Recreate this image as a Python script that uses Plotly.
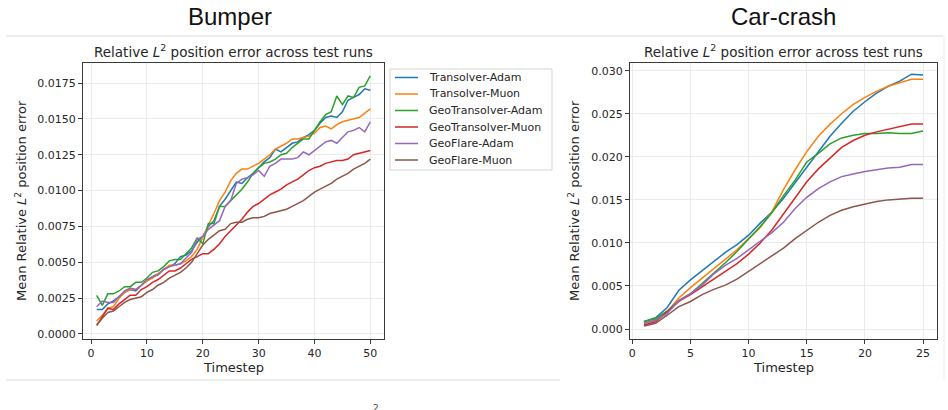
import plotly.graph_objects as go

W, H = 948, 410

series_names = ["Transolver-Adam", "Transolver-Muon", "GeoTransolver-Adam",
                "GeoTransolver-Muon", "GeoFlare-Adam", "GeoFlare-Muon"]
colors = ["#1f77b4", "#ff7f0e", "#2ca02c", "#d62728", "#9467bd", "#8c564b"]

bumper_t = list(range(1, 51))
bumper_transolver_adam = [
    0.0017, 0.0017, 0.0021, 0.0023, 0.0026, 0.0029, 0.0031, 0.0030, 0.0034, 0.0037,
    0.0040, 0.0042, 0.0045, 0.0047, 0.0049, 0.0054, 0.0055, 0.0058, 0.0064, 0.0068,
    0.0075, 0.0079, 0.0089, 0.0094, 0.0100, 0.0106, 0.0105, 0.0109, 0.0112, 0.0116,
    0.0120, 0.0123, 0.0129, 0.0127, 0.0130, 0.0133, 0.0134, 0.0137, 0.0139, 0.0142,
    0.0147, 0.0151, 0.0152, 0.0151, 0.0155, 0.0163, 0.0165, 0.0167, 0.0171, 0.0170]
bumper_transolver_muon = [
    0.0009, 0.0013, 0.0018, 0.0019, 0.0025, 0.0029, 0.0031, 0.0031, 0.0034, 0.0037,
    0.0039, 0.0042, 0.0045, 0.0048, 0.0048, 0.0049, 0.0051, 0.0054, 0.0059, 0.0068,
    0.0076, 0.0084, 0.0093, 0.0099, 0.0107, 0.0112, 0.0115, 0.0115, 0.0117, 0.0119,
    0.0122, 0.0125, 0.0129, 0.0131, 0.0133, 0.0136, 0.0136, 0.0137, 0.0138, 0.0140,
    0.0144, 0.0145, 0.0143, 0.0146, 0.0148, 0.0149, 0.0150, 0.0151, 0.0154, 0.0157]
bumper_geotransolver_adam = [
    0.0027, 0.0020, 0.0028, 0.0028, 0.0030, 0.0033, 0.0033, 0.0036, 0.0036, 0.0039,
    0.0043, 0.0044, 0.0047, 0.0051, 0.0052, 0.0052, 0.0056, 0.0060, 0.0067, 0.0063,
    0.0077, 0.0077, 0.0089, 0.0089, 0.0093, 0.0097, 0.0101, 0.0106, 0.0112, 0.0116,
    0.0119, 0.0120, 0.0122, 0.0125, 0.0126, 0.0130, 0.0133, 0.0136, 0.0136, 0.0142,
    0.0148, 0.0153, 0.0155, 0.0166, 0.0160, 0.0166, 0.0165, 0.0172, 0.0173, 0.0180]
bumper_geotransolver_muon = [
    0.0006, 0.0012, 0.0018, 0.0017, 0.0021, 0.0024, 0.0027, 0.0027, 0.0031, 0.0033,
    0.0036, 0.0038, 0.0041, 0.0044, 0.0044, 0.0046, 0.0049, 0.0052, 0.0054, 0.0056,
    0.0056, 0.0059, 0.0063, 0.0068, 0.0072, 0.0076, 0.0080, 0.0085, 0.0089, 0.0091,
    0.0094, 0.0097, 0.0099, 0.0101, 0.0104, 0.0106, 0.0108, 0.0111, 0.0114, 0.0116,
    0.0117, 0.0119, 0.0120, 0.0121, 0.0121, 0.0122, 0.0125, 0.0126, 0.0127, 0.0128]
bumper_geoflare_adam = [
    0.0019, 0.0023, 0.0022, 0.0022, 0.0026, 0.0030, 0.0032, 0.0031, 0.0034, 0.0038,
    0.0040, 0.0041, 0.0045, 0.0047, 0.0048, 0.0049, 0.0053, 0.0057, 0.0066, 0.0068,
    0.0073, 0.0076, 0.0079, 0.0089, 0.0093, 0.0105, 0.0108, 0.0109, 0.0111, 0.0114,
    0.0110, 0.0117, 0.0119, 0.0122, 0.0122, 0.0122, 0.0123, 0.0127, 0.0125, 0.0128,
    0.0131, 0.0134, 0.0135, 0.0133, 0.0137, 0.0141, 0.0142, 0.0144, 0.0141, 0.0148]
bumper_geoflare_muon = [
    0.0006, 0.0011, 0.0015, 0.0016, 0.0019, 0.0022, 0.0024, 0.0025, 0.0026, 0.0029,
    0.0031, 0.0034, 0.0036, 0.0039, 0.0041, 0.0043, 0.0046, 0.0050, 0.0056, 0.0062,
    0.0066, 0.0069, 0.0072, 0.0073, 0.0077, 0.0078, 0.0078, 0.0080, 0.0081, 0.0081,
    0.0082, 0.0084, 0.0085, 0.0086, 0.0087, 0.0089, 0.0091, 0.0093, 0.0096, 0.0099,
    0.0101, 0.0103, 0.0105, 0.0108, 0.0110, 0.0112, 0.0115, 0.0117, 0.0119, 0.0122]

crash_t = list(range(1, 26))
crash_transolver_adam = [
    0.00085, 0.0013, 0.0025, 0.0045, 0.0057, 0.0068, 0.0078, 0.0089, 0.0098, 0.0109,
    0.0123, 0.0136, 0.0152, 0.0170, 0.0189, 0.0207, 0.0224, 0.0239, 0.0253, 0.0264,
    0.0274, 0.0282, 0.0288, 0.0296, 0.0295]
crash_transolver_muon = [
    0.00066, 0.00105, 0.0020, 0.0036, 0.0048, 0.0059, 0.0071, 0.0081, 0.0092, 0.0105,
    0.0118, 0.0136, 0.0162, 0.0185, 0.0206, 0.0224, 0.0238, 0.0250, 0.0261, 0.0269,
    0.0276, 0.0282, 0.0286, 0.0290, 0.0290]
crash_geotransolver_adam = [
    0.0009, 0.0012, 0.0021, 0.0033, 0.0041, 0.0053, 0.0064, 0.0077, 0.0090, 0.0104,
    0.0119, 0.0135, 0.0155, 0.0173, 0.0194, 0.0204, 0.0215, 0.0222, 0.0225, 0.0227,
    0.0227, 0.0228, 0.0227, 0.0227, 0.0230]
crash_geotransolver_muon = [
    0.00047, 0.00085, 0.0020, 0.0032, 0.0040, 0.0049, 0.0058, 0.0067, 0.0076, 0.0087,
    0.0100, 0.0115, 0.0134, 0.0153, 0.0171, 0.0186, 0.0199, 0.0211, 0.0219, 0.0225,
    0.0229, 0.0232, 0.0235, 0.0238, 0.0238]
crash_geoflare_adam = [
    0.00066, 0.0010, 0.0018, 0.0033, 0.0041, 0.0051, 0.0064, 0.0074, 0.0082, 0.0092,
    0.0102, 0.0112, 0.0124, 0.0140, 0.0153, 0.0163, 0.0171, 0.0177, 0.0180, 0.0183,
    0.0185, 0.0187, 0.0188, 0.0191, 0.0191]
crash_geoflare_muon = [
    0.00035, 0.00066, 0.0016, 0.0026, 0.0032, 0.0040, 0.0046, 0.0051, 0.0058, 0.0067,
    0.0075, 0.0084, 0.0094, 0.0105, 0.0115, 0.0124, 0.0132, 0.0138, 0.0142, 0.0145,
    0.0148, 0.0150, 0.0151, 0.0152, 0.0152]

panel_titles = ["Bumper", "Car-crash"]
axes_title = "Relative <i>L</i><sup>2</sup> position error across test runs"
ylabel = "Mean Relative <i>L</i><sup>2</sup> position error"
xlabel = "Timestep"

bumper_series = [bumper_transolver_adam, bumper_transolver_muon, bumper_geotransolver_adam,
                 bumper_geotransolver_muon, bumper_geoflare_adam, bumper_geoflare_muon]
crash_series = [crash_transolver_adam, crash_transolver_muon, crash_geotransolver_adam,
                crash_geotransolver_muon, crash_geoflare_adam, crash_geoflare_muon]

MPL = "DejaVu Sans"
TXT = "#262626"
fig = go.Figure()
for name, c, ys in zip(series_names, colors, bumper_series):
    fig.add_trace(go.Scatter(x=bumper_t, y=ys, mode="lines", name=name, showlegend=False,
                             line=dict(color=c, width=1.5), xaxis="x", yaxis="y"))
for name, c, ys in zip(series_names, colors, crash_series):
    fig.add_trace(go.Scatter(x=crash_t, y=ys, mode="lines", name=name, showlegend=False,
                             line=dict(color=c, width=1.5), xaxis="x2", yaxis="y2"))

def px(x): return x / W
def py(y): return 1 - y / H

ydom = [py(339), py(63)]
axis_common = dict(showline=True, linecolor="#3a3a3a", linewidth=1, mirror=True,
                   ticks="outside", ticklen=4, tickwidth=1, tickcolor="#3a3a3a",
                   showgrid=True, gridcolor="#ebebeb", gridwidth=1, zeroline=False,
                   automargin=False,
                   tickfont=dict(family=MPL, size=11, color=TXT))

fig.update_layout(
    width=W, height=H, margin=dict(l=0, r=0, t=0, b=0, autoexpand=False),
    paper_bgcolor="white", plot_bgcolor="white",
    xaxis=dict(domain=[px(83), px(384)], range=[-1.45, 52.45], tick0=0, dtick=10,
               anchor="y", **axis_common),
    yaxis=dict(domain=ydom, range=[-0.00035, 0.0189], tick0=0, dtick=0.0025,
               tickformat=".4f", anchor="x", **axis_common),
    xaxis2=dict(domain=[px(630), px(937)], range=[-0.2, 26.2], tick0=0, dtick=5,
                anchor="y2", **axis_common),
    yaxis2=dict(domain=ydom, range=[-0.00116, 0.0309], tick0=0, dtick=0.005,
                tickformat=".3f", anchor="x2", **axis_common),
    showlegend=False,
)

def label(text, x, y, size, family=MPL, color=TXT, angle=0, xanchor="center"):
    return dict(text=text, x=px(x), y=py(y), xref="paper", yref="paper",
                xanchor=xanchor, yanchor="middle", textangle=angle, showarrow=False,
                font=dict(family=family, size=size, color=color))

ann = []
ann.append(label(panel_titles[0], 230, 16, 24, family="Liberation Sans", color="#111"))
ann.append(label(panel_titles[1], 783, 16, 24, family="Liberation Sans", color="#111"))
for cx, tx in [(233.5, 21), (783.5, 574)]:
    ann.append(label(axes_title, cx, 51, 13.5))
    ann.append(label(xlabel, cx, 367, 13))
    ann.append(label(ylabel, tx, 201, 13, angle=-90))

shapes = [
    dict(type="line", xref="paper", yref="paper", x0=px(6), x1=px(943), y0=py(36), y1=py(36),
         line=dict(color="#dcdcdc", width=1)),
    dict(type="line", xref="paper", yref="paper", x0=px(6), x1=px(560), y0=py(380), y1=py(380),
         line=dict(color="#dcdcdc", width=1)),
    dict(type="line", xref="paper", yref="paper", x0=px(944), x1=px(944), y0=py(36), y1=py(380),
         line=dict(color="#ececec", width=1)),
]

# legend (box with line samples and labels, matplotlib-style spacing)
leg_x0, leg_x1, leg_y0, leg_y1 = 390, 552, 69, 170
shapes.append(dict(type="rect", xref="paper", yref="paper",
                   x0=px(leg_x0), x1=px(leg_x1), y0=py(leg_y1), y1=py(leg_y0),
                   line=dict(color="#d6d6d6", width=1), fillcolor="white", layer="above"))
row0, row_step = 77.5, 16.5
for i, (name, c) in enumerate(zip(series_names, colors)):
    ry = row0 + i * row_step
    shapes.append(dict(type="line", xref="paper", yref="paper",
                       x0=px(395), x1=px(418), y0=py(ry), y1=py(ry),
                       line=dict(color=c, width=1.5), layer="above"))
    ann.append(label(name, 427, ry, 11, xanchor="left"))

# cut-off caption fragment at the bottom edge
ann.append(dict(text="2", x=px(376), y=py(401), xref="paper", yref="paper",
                xanchor="center", yanchor="top", showarrow=False,
                font=dict(family=MPL, size=9, color="#444")))

fig.update_layout(annotations=ann, shapes=shapes)
fig.write_html("out.html")
